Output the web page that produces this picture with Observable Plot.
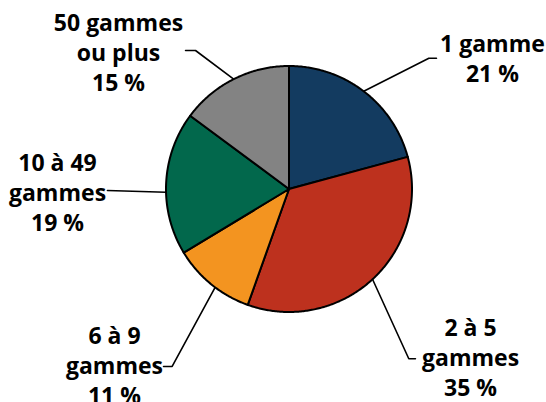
<!DOCTYPE html>
<html>
<head>
<meta charset="utf-8">
<script src="https://cdn.jsdelivr.net/npm/d3@7"></script>
<script src="https://cdn.jsdelivr.net/npm/@observablehq/plot@0.6"></script>
<style>
  html, body { margin: 0; padding: 0; background: #fff; }
  #chart { width: 546px; height: 402px; overflow: hidden; }
</style>
</head>
<body>
<div id="chart"></div>
<script>
// Data
const categories = ["1 gamme", "2 à 5 gammes", "6 à 9 gammes", "10 à 49 gammes", "50 gammes ou plus"];
const values = [21, 35, 11, 19, 15];
const labelTexts = ["1 gamme\n21 %", "2 à 5\ngammes\n35 %", "6 à 9\ngammes\n11 %", "10 à 49\ngammes\n19 %", "50 gammes\nou plus\n15 %"];
const colors = ["#133b60", "#bd311e", "#f39420", "#02684c", "#838383"];

// Label layout (in scale units of the unit circle)
const labelPos = [[1.654, 1.068], [1.476, -1.362], [-1.419, -1.429], [-1.882, -0.017], [-1.386, 1.121]];
const leaderElbows = [[[1.137, 1.063], [1.199, 1.063]], [[0.974, -1.380], [1.028, -1.380]], [[-0.950, -1.443], [-1.020, -1.443]], [[-1.476, -0.012]], [[-0.760, 1.126], [-0.841, 1.126]]];
const leaderStartAngleShift = [0, 0, -0.04, -0.073, 0];

const total = d3.sum(values);
const slices = [];
const leaders = [];
let acc = 0;
values.forEach((v, i) => {
  const a0 = acc / total * 2 * Math.PI;
  acc += v;
  const a1 = acc / total * 2 * Math.PI;
  slices.push({k: categories[i], x: 0, y: 0});
  const n = Math.max(2, Math.ceil((a1 - a0) / 0.01));
  for (let j = 0; j <= n; j++) {
    const a = a0 + (a1 - a0) * j / n;
    slices.push({k: categories[i], x: Math.sin(a), y: Math.cos(a)});
  }
  const am = (a0 + a1) / 2 + leaderStartAngleShift[i];
  leaders.push({k: categories[i], x: Math.sin(am), y: Math.cos(am)});
  leaderElbows[i].forEach(p => leaders.push({k: categories[i], x: p[0], y: p[1]}));
});
const labels = categories.map((c, i) => ({k: c, text: labelTexts[i], x: labelPos[i][0], y: labelPos[i][1]}));

const chart = Plot.plot({
  width: 546,
  height: 402,
  margin: 0,
  x: {domain: [-1, 1], range: [165.5, 411.5], axis: null},
  y: {domain: [-1, 1], range: [311.5, 65.5], axis: null},
  color: {domain: categories, range: colors},
  style: {fontFamily: "'Open Sans', sans-serif", background: "#fff"},
  marks: [
    Plot.line(leaders, {x: "x", y: "y", z: "k", stroke: "#000", strokeWidth: 1.6}),
    Plot.line(slices, {x: "x", y: "y", z: "k", fill: "k", stroke: "#000", strokeWidth: 2, curve: "linear-closed", strokeLinejoin: "round"}),
    Plot.text(labels, {x: "x", y: "y", text: "text", fontSize: 23, fontWeight: 700, lineHeight: 1.3, fill: "#000", textAnchor: "middle", lineAnchor: "middle"})
  ]
});
document.getElementById("chart").appendChild(chart);
</script>
</body>
</html>
